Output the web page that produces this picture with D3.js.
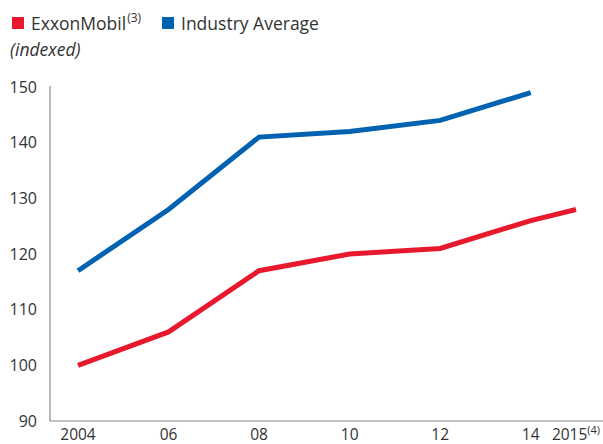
<!DOCTYPE html>
<html>
<head>
<meta charset="utf-8">
<script src="https://cdn.jsdelivr.net/npm/d3@7"></script>
<style>
  html, body { margin: 0; padding: 0; background: #fff; }
  svg text { font-family: "Open Sans", "Noto Sans", sans-serif; fill: #333; }
</style>
</head>
<body>
<svg id="chart" width="603" height="444"></svg>
<script>
// Index values by year
const years = [2004, 2006, 2008, 2010, 2012, 2014, 2015];
const exxonValues = [100, 106, 117, 120, 121, 126, 128];
const industryYears = [2004, 2006, 2008, 2010, 2012, 2014];
const industryValues = [117, 128, 141, 142, 144, 149];
const yTicks = [90, 100, 110, 120, 130, 140, 150];
const xTickLabels = ["2004", "06", "08", "10", "12", "14", "2015"];

const RED = "#e8192c";
const BLUE = "#0062b1";

const svg = d3.select("#chart");
const x = d3.scaleLinear().domain([2004, 2015]).range([78, 576]);
const y = d3.scaleLinear().domain([90, 150]).range([421, 87]);

// Axis lines
svg.append("line").attr("x1", 50).attr("x2", 50).attr("y1", 86).attr("y2", 421)
  .attr("stroke", "#8a8a8a").attr("stroke-width", 1.2);
svg.append("line").attr("x1", 49.5).attr("x2", 603).attr("y1", 421).attr("y2", 421)
  .attr("stroke", "#8a8a8a").attr("stroke-width", 1.2);

// Y tick labels
svg.append("g").selectAll("text").data(yTicks).join("text")
  .attr("x", 37).attr("y", d => y(d)).attr("dy", "0.36em")
  .attr("text-anchor", "end").attr("font-size", 16).text(d => d);

// X tick labels
const xl = svg.append("g").selectAll("text").data(years).join("text")
  .attr("x", d => x(d)).attr("y", 439.5)
  .attr("text-anchor", "middle").attr("font-size", 15.5);
xl.append("tspan").text((d, i) => xTickLabels[i]);
xl.filter(d => d === 2015).append("tspan")
  .attr("font-size", 11).attr("dy", -6).text("(4)");

// Lines
const line = d3.line().x(d => x(d[0])).y(d => y(d[1]));
svg.append("path")
  .datum(industryYears.map((yr, i) => [yr, industryValues[i]]))
  .attr("d", line).attr("fill", "none").attr("stroke", BLUE).attr("stroke-width", 5);
svg.append("path")
  .datum(years.map((yr, i) => [yr, exxonValues[i]]))
  .attr("d", line).attr("fill", "none").attr("stroke", RED).attr("stroke-width", 5);

// Legend
svg.append("rect").attr("x", 12).attr("y", 17).attr("width", 12).attr("height", 12).attr("fill", RED);
const t1 = svg.append("text").attr("x", 31).attr("y", 30).attr("font-size", 17.5);
t1.append("tspan").text("ExxonMobil");
t1.append("tspan").attr("font-size", 12).attr("dy", -8).attr("dx", 1).text("(3)");
svg.append("rect").attr("x", 162).attr("y", 17).attr("width", 12).attr("height", 12).attr("fill", BLUE);
svg.append("text").attr("x", 181).attr("y", 30).attr("font-size", 17.5).text("Industry Average");
svg.append("text").attr("x", 10).attr("y", 56).attr("font-size", 17.5)
  .attr("font-style", "italic").text("(indexed)");
</script>
</body>
</html>
